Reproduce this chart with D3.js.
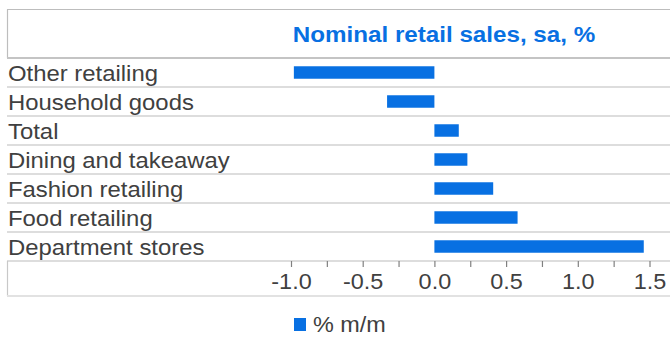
<!DOCTYPE html>
<html>
<head>
<meta charset="utf-8">
<script src="https://cdn.jsdelivr.net/npm/d3@7/dist/d3.min.js"></script>
<style>
  html, body { margin: 0; padding: 0; background: #fff; }
  svg { display: block; font-family: "Liberation Sans", Arial, sans-serif; }
</style>
</head>
<body>
<svg id="chart" width="670" height="338"></svg>
<script>
// Monthly change in nominal retail sales by category
const categories = [
  "Other retailing",
  "Household goods",
  "Total",
  "Dining and takeaway",
  "Fashion retailing",
  "Food retailing",
  "Department stores"
];
const values = [-0.98, -0.33, 0.17, 0.23, 0.41, 0.58, 1.46];
const tickValues = [-1.0, -0.75, -0.5, -0.25, 0.0, 0.25, 0.5, 0.75, 1.0, 1.25, 1.5];
const labelledTicks = [-1.0, -0.5, 0.0, 0.5, 1.0, 1.5];
const titleText = "Nominal retail sales, sa, %";
const seriesName = "% m/m";

const W = 670;
const BLUE = "#0870e2";
const TEXT = "#404040";

const svg = d3.select("#chart");

const x = d3.scaleLinear().domain([-1, 1.5]).range([291, 649.5]);
const y = d3.scaleBand().domain(categories).range([58, 261]);

// Text with a slight horizontal stretch
function stext(sel, px, py, str, opts) {
  return sel.append("text")
    .attr("transform", `translate(${px},${py}) scale(${opts.sx || 1.09},1)`)
    .attr("font-size", opts.size)
    .attr("font-weight", opts.weight || "normal")
    .attr("fill", opts.fill || TEXT)
    .attr("text-anchor", opts.anchor || "start")
    .text(str);
}

// Title box
svg.append("line").attr("x1", 7).attr("x2", W).attr("y1", 9.5).attr("y2", 9.5)
  .attr("stroke", "#bdbdbd").attr("stroke-width", 1.2);
svg.append("line").attr("x1", 7.5).attr("x2", 7.5).attr("y1", 9.5).attr("y2", 58)
  .attr("stroke", "#bdbdbd").attr("stroke-width", 1.2);
stext(svg, 444, 41.5, titleText, { size: 22, sx: 1.1, weight: "bold", fill: BLUE, anchor: "middle" });

// Row separators
const rowEdges = categories.map(c => y(c)).concat([y.range()[1]]);
svg.append("g").selectAll("line").data(rowEdges).join("line")
  .attr("x1", 7).attr("x2", W)
  .attr("y1", d => d).attr("y2", d => d)
  .attr("stroke", (d, i) => i === 0 ? "#c4c4c4" : "#d2d2d2")
  .attr("stroke-width", (d, i) => i === 0 ? 2 : 1.5);

// Category labels
const labels = svg.append("g");
categories.forEach(c => {
  stext(labels, 8, y(c) + 22.5, c, { size: 22, sx: 1.086 });
});

// Bars
const barH = y.bandwidth() * 0.43;
svg.append("g").selectAll("rect").data(values).join("rect")
  .attr("x", d => x(Math.min(0, d)))
  .attr("width", d => Math.abs(x(d) - x(0)))
  .attr("y", (d, i) => y(categories[i]) + (y.bandwidth() - barH) / 2)
  .attr("height", barH)
  .attr("fill", BLUE);

// Axis box
svg.append("line").attr("x1", 7.5).attr("x2", 7.5).attr("y1", 261).attr("y2", 296)
  .attr("stroke", "#c8c8c8").attr("stroke-width", 1.2);
svg.append("line").attr("x1", 7).attr("x2", W).attr("y1", 296).attr("y2", 296)
  .attr("stroke", "#e2e2e2").attr("stroke-width", 2);

const fmt = v => labelledTicks.some(t => Math.abs(t - v) < 1e-9)
  ? (v < 0 ? "-" : "") + Math.abs(v).toFixed(1) : "";

const axis = svg.append("g")
  .attr("transform", "translate(0,261)")
  .call(d3.axisBottom(x).tickValues(tickValues).tickFormat(fmt).tickSize(6).tickPadding(5));
axis.select(".domain").remove();
axis.selectAll(".tick line").attr("stroke", "#808080").attr("stroke-width", 1.2);
axis.selectAll(".tick text")
  .attr("font-family", "'Liberation Sans', Arial, sans-serif")
  .attr("font-size", 21.5)
  .attr("fill", TEXT)
  .attr("y", 28.5)
  .attr("dy", 0)
  .attr("transform", "scale(1.09,1)");

// Legend
const legend = svg.append("g");
legend.append("rect").attr("x", 294).attr("y", 318).attr("width", 12).attr("height", 13)
  .attr("fill", BLUE);
stext(legend, 313, 331.5, seriesName, { size: 21.5, sx: 1.09 });
</script>
</body>
</html>
